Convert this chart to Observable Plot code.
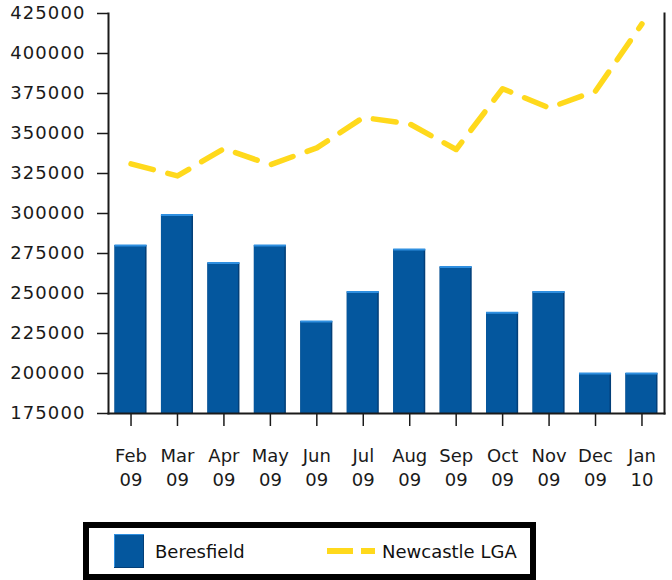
<!DOCTYPE html>
<html>
<head>
<meta charset="utf-8">
<script src="https://cdn.jsdelivr.net/npm/d3@7"></script>
<script src="https://cdn.jsdelivr.net/npm/@observablehq/plot@0.6"></script>
<style>
  body { margin: 0; background: #fff; font-family: "DejaVu Sans", sans-serif; }
  #wrap { position: relative; width: 672px; height: 580px; }
  #legend { position: absolute; left: 83px; top: 522px; width: 453px; height: 58px; box-sizing: border-box;
            border: 6px solid #000; background: #fff; font-size: 18px; color: #111; }
  .item { position: absolute; top: 0; height: 46px; display: flex; align-items: center; }
  g[aria-label="y-axis tick label"] text { letter-spacing: 1.1px; }
</style>
</head>
<body>
<div id="wrap"></div>
<script>
const months = ["Feb 09","Mar 09","Apr 09","May 09","Jun 09","Jul 09","Aug 09","Sep 09","Oct 09","Nov 09","Dec 09","Jan 10"];
const beresfield = [280000, 299000, 269000, 280000, 232500, 251000, 277500, 266500, 238000, 251000, 200000, 200000];
const newcastle = [331000, 323500, 340500, 330500, 341000, 360000, 356000, 340000, 378000, 366000, 376500, 418500];
const yTicks = [175000, 200000, 225000, 250000, 275000, 300000, 325000, 350000, 375000, 400000, 425000];
const seriesNames = ["Beresfield", "Newcastle LGA"];
const colors = {bar: "#04579e", barLight: "#2f8fe0", barDark: "#033f78", line: "#ffd91c"};

const data = months.map((m, i) => ({month: m, b: beresfield[i], n: newcastle[i]}));

const plot = Plot.plot({
  width: 672,
  height: 515,
  marginLeft: 108,
  marginRight: 8,
  marginTop: 13,
  marginBottom: 102,
  style: {fontFamily: "DejaVu Sans, sans-serif", fontSize: "18px", color: "#1a1a1a", background: "#fff"},
  x: {domain: months, paddingInner: 0.31, paddingOuter: 0.14, round: false, label: null},
  y: {domain: [175000, 425000], label: null},
  marks: [
    Plot.barY(data, {x: "month", y: "b", fill: colors.barDark, clip: true}),
    Plot.barY(data, {x: "month", y: "b", fill: colors.bar, clip: true, insetRight: 1.5}),
    Plot.tickY(data, {x: "month", y: "b", stroke: colors.barLight, strokeWidth: 2}),
    Plot.line(data, {x: "month", y: "n", stroke: colors.line, strokeWidth: 5.5, strokeDasharray: "23,15", strokeLinecap: "round", strokeLinejoin: "round"}),
    Plot.axisY({ticks: yTicks, tickFormat: d => String(d), tickSize: 11, tickPadding: 12, stroke: "#1a1a1a", strokeWidth: 1.5, fontSize: 18}),
    Plot.axisX({tickFormat: d => d.replace(" ", "\n"), tickSize: 13, tickPadding: 19, lineHeight: 1.3, stroke: "#1a1a1a", strokeWidth: 1.5, fontSize: 18}),
    Plot.frame({anchor: "left", stroke: "#1a1a1a", strokeWidth: 2}),
    Plot.frame({anchor: "bottom", stroke: "#1a1a1a", strokeWidth: 2}),
    Plot.frame({anchor: "right", stroke: "#1a1a1a", strokeWidth: 2})
  ]
});
document.getElementById("wrap").appendChild(plot);

const legend = document.createElement("div");
legend.id = "legend";
legend.innerHTML = `
  <div class="item" style="left:25px">
    <svg width="30" height="34" style="margin-right:11px"><rect x="0.5" y="0.5" width="29" height="33" fill="${colors.bar}" stroke="${colors.barLight}" stroke-width="1"/><line x1="29.5" y1="1" x2="29.5" y2="34" stroke="${colors.barDark}"/><line x1="0" y1="33.5" x2="30" y2="33.5" stroke="${colors.barDark}"/></svg>
    <span>${seriesNames[0]}</span>
  </div>
  <div class="item" style="left:238px">
    <svg width="48" height="10" style="margin-right:7px"><line x1="0" y1="5" x2="48" y2="5" stroke="${colors.line}" stroke-width="6" stroke-dasharray="26,8"/></svg>
    <span>${seriesNames[1]}</span>
  </div>`;
document.getElementById("wrap").appendChild(legend);
</script>
</body>
</html>
